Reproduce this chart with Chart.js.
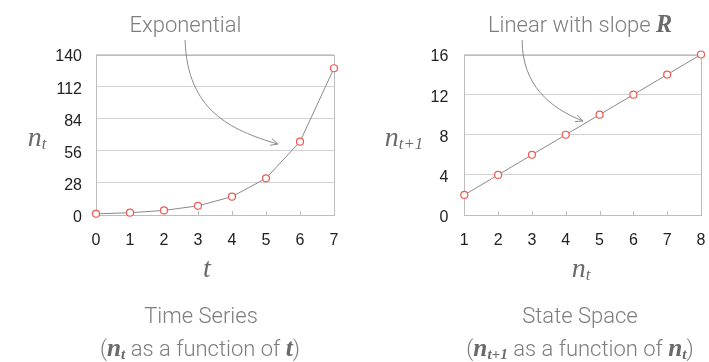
<!DOCTYPE html>
<html>
<head>
<meta charset="utf-8">
<script src="https://cdn.jsdelivr.net/npm/chart.js@4/dist/chart.umd.min.js"></script>
<style>
  html, body { margin:0; padding:0; background:#fff; width:709px; height:362px; overflow:hidden; }
  canvas { position:absolute; left:0; top:0; }
  .lbl { position:absolute; white-space:nowrap; line-height:1; }
  .sans { font-family:"Roboto","Liberation Sans",sans-serif; font-weight:300; color:#7d7d7d; font-size:22px; }
  .math { font-family:"Liberation Serif","DejaVu Serif",serif; font-style:italic; }
  .ax { color:#6a6a6a; font-size:28px; }
  .bm { font-weight:bold; color:#6a6a6a; }
  .sub { position:relative; font-size:0.6em; top:0.2em; }
</style>
</head>
<body>
<canvas id="left" width="709" height="362"></canvas>
<canvas id="right" width="709" height="362"></canvas>
<script>
// ---- data ----
const tValues = [0, 1, 2, 3, 4, 5, 6, 7];
const nValues = [1, 2, 4, 8, 16, 32, 64, 128];
const ntValues = [1, 2, 3, 4, 5, 6, 7, 8];
const nNextValues = [2, 4, 6, 8, 10, 12, 14, 16];
const leftYTicks = [0, 28, 56, 84, 112, 140];
const rightYTickLabels = [0, 4, 8, 12, 16];

// annotation arrows in data coordinates (cubic bezier)
const leftArrow = [[2.62, 152.6], [2.68, 91.6], [3.94, 74.1], [5.35, 61.9]];
const rightArrow = [[2.71, 17.45], [2.71, 12.96], [3.53, 10.67], [4.51, 9.37]];

const tickFont = { family: "'Liberation Sans', Arial, sans-serif", size: 16 };
const tickColor = '#222';

const framePlugin = {
  id: 'frame',
  beforeDatasetsDraw(chart) {
    const { ctx, chartArea: a, scales } = chart;
    ctx.save();
    ctx.strokeStyle = '#bdbdbd';
    ctx.lineWidth = 1;
    ctx.strokeRect(Math.round(a.left) + 0.5, Math.round(a.top) + 0.5,
                   Math.round(a.right) - Math.round(a.left), Math.round(a.bottom) - Math.round(a.top));
    const xs = scales.x;
    ctx.beginPath();
    for (let v = xs.min + 1; v < xs.max; v++) {
      const px = Math.round(xs.getPixelForValue(v)) + 0.5;
      ctx.moveTo(px, Math.round(a.bottom));
      ctx.lineTo(px, Math.round(a.bottom) - 4);
    }
    ctx.stroke();
    ctx.restore();
  },
  afterDraw(chart, args, opts) {
    const pts = opts.arrow;
    if (!pts) return;
    const { ctx, scales } = chart;
    const p = pts.map(([x, y]) => [scales.x.getPixelForValue(x), scales.y.getPixelForValue(y)]);
    ctx.save();
    ctx.strokeStyle = '#8a8a8a';
    ctx.lineWidth = 1;
    ctx.beginPath();
    ctx.moveTo(p[0][0], p[0][1]);
    ctx.bezierCurveTo(p[1][0], p[1][1], p[2][0], p[2][1], p[3][0], p[3][1]);
    ctx.stroke();
    const ang = Math.atan2(p[3][1] - p[2][1], p[3][0] - p[2][0]);
    const L = 8, w = 0.45;
    ctx.beginPath();
    ctx.moveTo(p[3][0] - L * Math.cos(ang - w), p[3][1] - L * Math.sin(ang - w));
    ctx.lineTo(p[3][0], p[3][1]);
    ctx.lineTo(p[3][0] - L * Math.cos(ang + w), p[3][1] - L * Math.sin(ang + w));
    ctx.stroke();
    ctx.restore();
  }
};

function makeChart(id, xs, ys, xr, yr, yStep, yLabels, padding, arrow, yPad) {
  return new Chart(document.getElementById(id), {
    type: 'scatter',
    data: { datasets: [{
      data: xs.map((x, i) => ({ x, y: ys[i] })),
      showLine: true,
      borderColor: '#8a8a8a',
      borderWidth: 1,
      pointRadius: 3.5,
      pointBorderWidth: 1.2,
      pointBorderColor: '#ef5a52',
      pointBackgroundColor: '#ffffff',
      clip: false
    }] },
    options: {
      responsive: false,
      animation: false,
      events: [],
      layout: { padding, autoPadding: false },
      plugins: { legend: { display: false }, tooltip: { enabled: false }, frame: { arrow } },
      scales: {
        x: {
          type: 'linear', min: xr[0], max: xr[1],
          ticks: { stepSize: 1, padding: 8, font: tickFont, color: tickColor },
          grid: { display: false },
          border: { display: false },
          afterFit(s) { s.height = 50; s.paddingLeft = 0; s.paddingRight = 0; }
        },
        y: {
          type: 'linear', min: yr[0], max: yr[1],
          ticks: { stepSize: yStep, padding: yPad, labelOffset: 2.5, font: tickFont, color: tickColor,
                   callback: v => yLabels.includes(v) ? String(v) : '' },
          grid: { color: '#d2d2d2', drawTicks: false, lineWidth: 1 },
          border: { display: false },
          afterFit(s) { s.width = 40; s.paddingTop = 0; s.paddingBottom = 0; }
        }
      }
    },
    plugins: [framePlugin]
  });
}

makeChart('left', tValues, nValues, [0, 7], [0, 140], 28, leftYTicks,
  { left: 56, top: 54.5, right: 375, bottom: 97 }, leftArrow, 14);
makeChart('right', ntValues, nNextValues, [1, 8], [0, 16], 2, rightYTickLabels,
  { left: 424.3, top: 54.5, right: 8, bottom: 97 }, rightArrow, 16);

// ---- text overlays ----
function place(html, cls, cx, baseline) {
  const el = document.createElement('div');
  el.className = 'lbl ' + cls;
  el.innerHTML = html;
  el.style.left = '0px'; el.style.top = '0px';
  const m = document.createElement('span');
  m.style.display = 'inline-block'; m.style.width = '0'; m.style.height = '0';
  m.style.verticalAlign = 'baseline';
  el.appendChild(m);
  document.body.appendChild(el);
  const r = el.getBoundingClientRect();
  const mr = m.getBoundingClientRect();
  el.style.left = (cx - r.width / 2) + 'px';
  el.style.top = (baseline - (mr.bottom - r.top)) + 'px';
}
const nt = '<span class="math">n<span class="sub">t</span></span>';
const nt1 = '<span class="math">n<span class="sub">t+1</span></span>';
place('Exponential', 'sans', 185.5, 31.5);
place('Linear with slope <span class="math bm" style="font-size:1.1em">R</span>', 'sans', 580, 31.5);
place(nt, 'ax', 37, 146);
place(nt1, 'ax', 404, 146);
place('<span class="math">t</span>', 'ax', 207, 277);
place(nt, 'ax', 581, 277);
place('Time Series', 'sans', 201, 322.5);
place('State Space', 'sans', 580, 322.5);
place('(<span class="math bm" style="font-size:1.15em">n<span class="sub">t</span></span> as a function of <span class="math bm" style="font-size:1.15em">t</span>)', 'sans', 200, 356);
place('(<span class="math bm" style="font-size:1.15em">n<span class="sub">t+1</span></span> as a function of <span class="math bm" style="font-size:1.15em">n<span class="sub">t</span></span>)', 'sans', 580, 356);
</script>
</body>
</html>
